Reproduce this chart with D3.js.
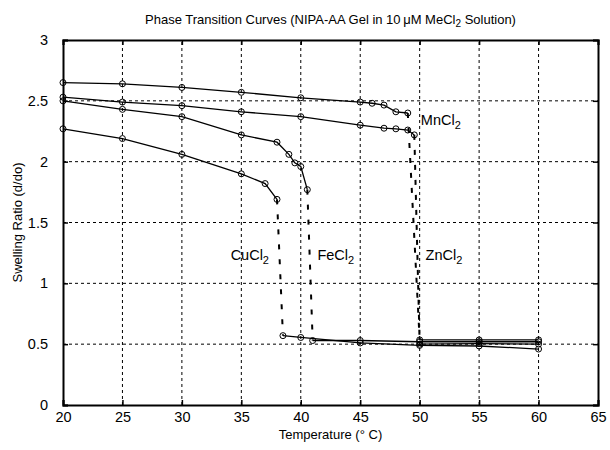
<!DOCTYPE html>
<html>
<head>
<meta charset="utf-8">
<script src="https://cdn.jsdelivr.net/npm/d3@7"></script>
<style>
  body { margin: 0; background: #fff; }
  text { font-family: "Liberation Sans", Arial, sans-serif; fill: #000; }
</style>
</head>
<body>
<div id="chart"></div>
<script>
// swelling ratio vs temperature, one array per salt (upper branch, lower branch)
const mnUpper = [[20, 2.65], [25, 2.64], [30, 2.61], [35, 2.57], [40, 2.525], [45, 2.49], [46, 2.48], [47, 2.465], [48, 2.41], [49, 2.40]];
const mnLower = [[50, 0.535], [55, 0.535], [60, 0.535]];
const znUpper = [[20, 2.53], [25, 2.49], [30, 2.46], [35, 2.41], [40, 2.37], [45, 2.30], [47, 2.275], [48, 2.27], [49, 2.26], [49.55, 2.22]];
const znLower = [[50, 0.50], [55, 0.505], [60, 0.50]];
const feUpper = [[20, 2.50], [25, 2.43], [30, 2.37], [35, 2.22], [38, 2.16], [39, 2.06], [39.5, 1.99], [40, 1.96], [40.55, 1.77]];
const feLower = [[41, 0.53], [45, 0.53], [50, 0.52], [55, 0.52], [60, 0.52]];
const cuUpper = [[20, 2.27], [25, 2.19], [30, 2.06], [35, 1.90], [37, 1.82], [38, 1.69]];
const cuLower = [[38.5, 0.57], [40, 0.555], [45, 0.51], [50, 0.49], [55, 0.485], [60, 0.46]];

const curves = [mnUpper, mnLower, znUpper, znLower, feUpper, feLower, cuUpper, cuLower];
// jumps drawn dashed: end of upper branch to start of lower branch
const jumps = [[mnUpper, mnLower], [znUpper, znLower], [feUpper, feLower], [cuUpper, cuLower]];

const xTicks = [20, 25, 30, 35, 40, 45, 50, 55, 60, 65];
const yTicks = [0, 0.5, 1, 1.5, 2, 2.5, 3];

const labels = [
  { name: "MnCl", x: 50.1, y: 2.30 },
  { name: "CuCl", x: 34.1, y: 1.19 },
  { name: "FeCl", x: 41.4, y: 1.19 },
  { name: "ZnCl", x: 50.5, y: 1.19 }
];

const width = 610, height = 450;
const margin = { top: 40, right: 12, bottom: 45, left: 63 };

const svg = d3.select("#chart").append("svg")
  .attr("width", width)
  .attr("height", height);

const x = d3.scaleLinear().domain([20, 65]).range([margin.left, width - margin.right]);
const y = d3.scaleLinear().domain([0, 3]).range([height - margin.bottom, margin.top]);

// grid
const grid = svg.append("g")
  .attr("stroke", "#000")
  .attr("stroke-width", 1)
  .attr("stroke-dasharray", "3,3");
grid.selectAll(".gx").data(xTicks.slice(1, -1)).join("line")
  .attr("x1", d => x(d)).attr("x2", d => x(d))
  .attr("y1", y(0)).attr("y2", y(3));
grid.selectAll(".gy").data(yTicks.slice(1, -1)).join("line")
  .attr("y1", d => y(d)).attr("y2", d => y(d))
  .attr("x1", x(20)).attr("x2", x(65));

// axes with inward ticks
svg.append("g")
  .attr("transform", `translate(0,${y(0)})`)
  .call(d3.axisBottom(x).tickValues(xTicks).tickSize(-5).tickPadding(7).tickFormat(d3.format("d")));
svg.append("g")
  .attr("transform", `translate(${x(20)},0)`)
  .call(d3.axisLeft(y).tickValues(yTicks).tickSize(-5).tickPadding(15).tickFormat(d => d));
svg.append("g")
  .attr("transform", `translate(0,${y(3)})`)
  .call(d3.axisTop(x).tickValues(xTicks).tickSize(-5).tickFormat(""));
svg.append("g")
  .attr("transform", `translate(${x(65)},0)`)
  .call(d3.axisRight(y).tickValues(yTicks).tickSize(-5).tickFormat(""));

svg.selectAll(".domain").attr("stroke-width", 2).attr("stroke", "#000");
svg.selectAll(".tick line").attr("stroke-width", 1.5);
svg.selectAll(".tick text").style("font-size", "14.5px").style("font-family", "'Liberation Sans', Arial, sans-serif");

// dashed jumps
svg.append("g").selectAll("line").data(jumps).join("line")
  .attr("x1", d => x(d[0][d[0].length - 1][0]))
  .attr("y1", d => y(d[0][d[0].length - 1][1]))
  .attr("x2", d => x(d[1][0][0]))
  .attr("y2", d => y(d[1][0][1]))
  .attr("stroke", "#000")
  .attr("stroke-width", 2)
  .attr("stroke-dasharray", "5,10");

// curves
const line = d3.line().x(d => x(d[0])).y(d => y(d[1]));
svg.append("g").selectAll("path").data(curves).join("path")
  .attr("d", line)
  .attr("fill", "none")
  .attr("stroke", "#000")
  .attr("stroke-width", 1.3);

// circle markers
svg.append("g").selectAll("circle").data(curves.flat()).join("circle")
  .attr("cx", d => x(d[0]))
  .attr("cy", d => y(d[1]))
  .attr("r", 3)
  .attr("fill", "none")
  .attr("stroke", "#000")
  .attr("stroke-width", 1);

// curve labels with subscript 2
const lab = svg.append("g").selectAll("text").data(labels).join("text")
  .attr("x", d => x(d.x))
  .attr("y", d => y(d.y))
  .style("font-size", "14.5px");
lab.append("tspan").text(d => d.name);
lab.append("tspan").attr("dy", 4).style("font-size", "11px").text("2");

// title
const title = svg.append("text")
  .attr("x", (x(20) + x(65)) / 2)
  .attr("y", 24)
  .attr("text-anchor", "middle")
  .style("font-size", "13px");
title.append("tspan").text("Phase Transition Curves (NIPA-AA Gel in 10\u2009\u03bcM MeCl");
title.append("tspan").attr("dy", 3).style("font-size", "10px").text("2");
title.append("tspan").attr("dy", -3).text(" Solution)");

// axis titles
svg.append("text")
  .attr("x", (x(20) + x(65)) / 2)
  .attr("y", 439)
  .attr("text-anchor", "middle")
  .style("font-size", "13px")
  .text("Temperature (\u00b0 C)");

svg.append("text")
  .attr("transform", `translate(22,${(y(0) + y(3)) / 2}) rotate(-90)`)
  .attr("text-anchor", "middle")
  .style("font-size", "13px")
  .text("Swelling Ratio (d/do)");
</script>
</body>
</html>
